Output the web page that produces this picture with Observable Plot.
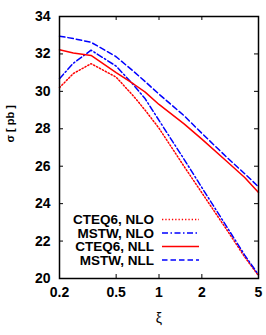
<!DOCTYPE html>
<html><head><meta charset="utf-8">
<script src="https://cdn.jsdelivr.net/npm/d3@7"></script>
<script src="https://cdn.jsdelivr.net/npm/@observablehq/plot@0.6"></script>
<style>body{margin:0;background:#fff}</style>
</head><body><div id="chart"></div>
<script>
const xi      = [0.2, 0.25, 0.3333, 0.5, 0.6667, 0.8, 1, 1.5, 2, 3, 4, 5];
const cteqNLO = [30.2, 30.95, 31.48, 30.76, 29.72, 28.99, 28.03, 25.99, 24.58, 22.59, 21.15, 20.15];
const mstwNLO = [30.68, 31.5, 32.2, 31.35, 30.32, 29.6, 28.45, 26.37, 24.86, 22.75, 21.25, 20.2];
const cteqNLL = [32.22, 32.05, 31.92, 31.0, 30.38, 29.96, 29.3, 28.26, 27.45, 26.25, 25.4, 24.6];
const mstwNLL = [32.95, 32.82, 32.62, 31.85, 31.05, 30.52, 29.85, 28.7, 27.76, 26.47, 25.6, 24.9];
const seriesNames = ["CTEQ6, NLO", "MSTW, NLO", "CTEQ6, NLL", "MSTW, NLL"];
const xTicks = [0.2, 0.5, 1, 2, 5];
const yTicks = [20, 22, 24, 26, 28, 30, 32, 34];

const values = [cteqNLO, mstwNLO, cteqNLL, mstwNLL];
const styles = [
  {stroke: "#ff0000", dash: "1.3,2"},
  {stroke: "#0000ff", dash: "6,2.5,1.5,2.5"},
  {stroke: "#ff0000", dash: null},
  {stroke: "#0000ff", dash: "5.5,3"}
];
const rows = seriesNames.map((s, i) => xi.map((x, j) => ({series: s, x, y: values[i][j]})));

const W = 266, H = 335, mL = 59, mR = 8, mT = 16, mB = 57;
const fw = W - mL - mR, fh = H - mT - mB;
const font = "Liberation Sans, Arial, Helvetica, sans-serif";

function legend(index, scales, vals, dims) {
  const g = d3.create("svg:g");
  const right = dims.width - dims.marginRight;
  const bottom = dims.height - dims.marginBottom;
  seriesNames.forEach((n, i) => {
    const y = bottom - 58.5 + i * 13.5;
    g.append("text").attr("x", right - 104).attr("y", y).attr("dy", "0.35em")
      .attr("text-anchor", "end").attr("font-size", 13.5).attr("font-weight", "bold")
      .attr("font-family", font).attr("fill", "black").text(n);
    const l = g.append("line").attr("x1", right - 96).attr("x2", right - 59)
      .attr("y1", y).attr("y2", y).attr("stroke", styles[i].stroke).attr("stroke-width", 1.5);
    if (styles[i].dash) l.attr("stroke-dasharray", styles[i].dash);
  });
  return g.node();
}

const chart = Plot.plot({
  width: W, height: H,
  marginLeft: mL, marginRight: mR, marginTop: mT, marginBottom: mB,
  style: {fontFamily: font, background: "white", overflow: "visible"},
  x: {type: "log", domain: [0.2, 5], axis: null},
  y: {domain: [20, 34], axis: null},
  marks: [
    ...rows.map((r, i) => Plot.line(r, {x: "x", y: "y", stroke: styles[i].stroke,
      strokeDasharray: styles[i].dash, strokeWidth: 1.5})),
    Plot.tickX(xTicks, {x: d => d, insetTop: fh - 4, stroke: "black", strokeWidth: 1}),
    Plot.tickX(xTicks, {x: d => d, insetBottom: fh - 4, stroke: "black", strokeWidth: 1}),
    Plot.tickY(yTicks, {y: d => d, insetRight: fw - 4, stroke: "black", strokeWidth: 1}),
    Plot.tickY(yTicks, {y: d => d, insetLeft: fw - 4, stroke: "black", strokeWidth: 1}),
    Plot.frame({stroke: "black", strokeWidth: 1.5}),
    Plot.text(xTicks, {x: d => d, text: d => String(d), frameAnchor: "bottom", dy: 14, lineAnchor: "middle",
      fontSize: 14, fontWeight: "bold", fill: "black"}),
    Plot.text(yTicks, {y: d => d, text: d => String(d), frameAnchor: "left", dx: -9, textAnchor: "end",
      lineAnchor: "middle", fontSize: 14, fontWeight: "bold", fill: "black"}),
    Plot.text(["σ [ pb ]"], {frameAnchor: "left", dx: -49, dy: -5, rotate: -90, fontSize: 11, fontWeight: "bold", fill: "black"}),
    Plot.text(["ξ"], {frameAnchor: "bottom", dy: 44, fontSize: 14, fill: "black"}),
    legend
  ]
});
document.getElementById("chart").appendChild(chart);
</script>
</body></html>
